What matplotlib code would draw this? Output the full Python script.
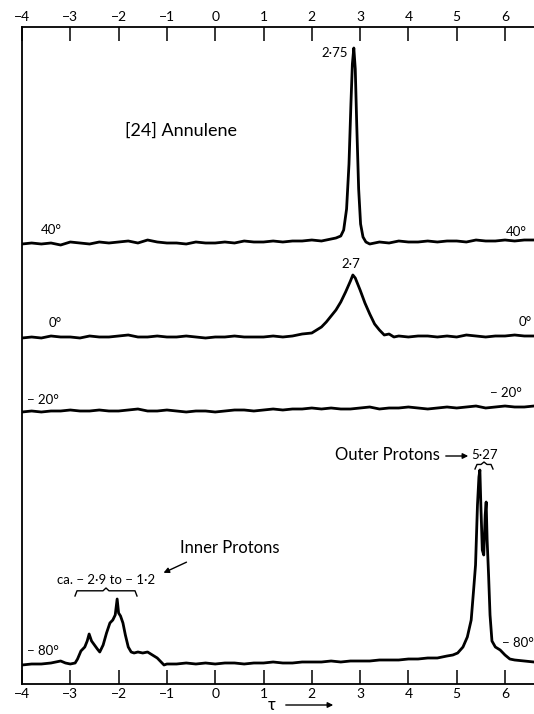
import matplotlib
matplotlib.use("Agg")
import matplotlib.pyplot as plt

plt.rcParams['font.family'] = ['Lato', 'DejaVu Sans']

# chemical shift scale (tau)
tau_ticks = [-4, -3, -2, -1, 0, 1, 2, 3, 4, 5, 6]

# 40 deg trace: single sharp line
tau_40 = [-4.0, -3.8, -3.6, -3.4, -3.2, -3.0, -2.8, -2.6, -2.4, -2.2, -2.0, -1.8, -1.6, -1.4, -1.2,
          -1.0, -0.8, -0.6, -0.4, -0.2, 0.0, 0.2, 0.4, 0.6, 0.8, 1.0, 1.2, 1.4, 1.6, 1.8, 2.0, 2.2, 2.4,
          2.5, 2.6, 2.66, 2.72, 2.77, 2.81, 2.84, 2.87, 2.9, 2.93, 2.97, 3.01, 3.06, 3.12,
          3.2, 3.4, 3.6, 3.8, 4.0, 4.2, 4.4, 4.6, 4.8, 5.0, 5.2, 5.4, 5.6, 5.8, 6.0, 6.2, 6.4, 6.6]
amp_40 = [0, 1, 0, 1, -1, 2, 1, 0, 2, 1, 2, 3, 1, 4, 2,
          1, 1, 0, 2, 1, 1, 2, 1, 3, 2, 2, 3, 2, 3, 3, 4, 3, 5,
          6, 8, 14, 35, 80, 140, 180, 196, 175, 120, 55, 20, 7, 2,
          0, 2, 1, 3, 2, 2, 3, 2, 3, 3, 2, 4, 3, 3, 4, 3, 4, 4]

# 0 deg trace: broadened line
tau_0 = [-4.0, -3.8, -3.6, -3.4, -3.2, -3.0, -2.8, -2.6, -2.4, -2.2, -2.0, -1.8, -1.6, -1.4,
         -1.2, -1.0, -0.8, -0.6, -0.4, -0.2, 0.0, 0.2, 0.4, 0.6, 0.8, 1.0, 1.2, 1.4,
         1.6, 1.8, 2.0, 2.1, 2.2, 2.3, 2.4, 2.5, 2.6, 2.7, 2.8, 2.85, 2.9, 3.0, 3.1, 3.2, 3.3, 3.4,
         3.5, 3.6, 3.7,
         3.8, 4.0, 4.2, 4.4, 4.6, 4.8, 5.0, 5.2, 5.4, 5.6, 5.8, 6.0, 6.2, 6.4, 6.6]
amp_0 = [0, 1, 0, 2, 1, 1, 0, 2, 1, 1, 2, 3, 1, 1,
         2, 1, 1, 2, 1, 0, 1, 1, 2, 1, 1, 1, 2, 1,
         2, 4, 5, 8, 11, 16, 22, 28, 36, 46, 57, 63, 60, 48, 35, 24, 14, 8,
         3, 4, 1,
         2, 1, 2, 2, 1, 2, 1, 3, 2, 1, 2, 2, 3, 2, 2]

# -20 deg trace: coalescence, almost flat
tau_m20 = [-4.0, -3.8, -3.6, -3.4, -3.2, -3.0, -2.8, -2.6, -2.4, -2.2, -2.0, -1.8, -1.6, -1.4,
           -1.2, -1.0, -0.8, -0.6, -0.4, -0.2, 0.0, 0.2, 0.4, 0.6, 0.8, 1.0, 1.2, 1.4, 1.6, 1.8,
           2.0, 2.2, 2.4, 2.6, 2.8, 3.0, 3.2, 3.4, 3.6, 3.8, 4.0, 4.2, 4.4, 4.6, 4.8, 5.0, 5.2,
           5.4, 5.6, 5.8, 6.0, 6.2, 6.4, 6.6]
amp_m20 = [0, 1, 0, 1, 1, 2, 1, 1, 2, 1, 1, 2, 3, 1, 1, 2, 1, 0, 1, 1,
           0, 1, 2, 2, 1, 2, 3, 2, 3, 3, 4, 3, 4, 3, 3, 4, 5, 3, 4, 4,
           5, 4, 3, 4, 5, 4, 5, 6, 4, 5, 6, 5, 5, 6]

# -80 deg trace: inner and outer protons resolved
tau_m80 = [-4.0, -3.8, -3.6, -3.4, -3.2, -3.1, -3.0, -2.9, -2.85, -2.78, -2.7, -2.65, -2.61, -2.56,
           -2.5, -2.44, -2.39, -2.32, -2.25, -2.18, -2.12, -2.07, -2.03, -2.0, -1.96, -1.91, -1.86,
           -1.8, -1.74, -1.68, -1.6, -1.5, -1.4, -1.3, -1.2, -1.12, -1.06, -1.0, -0.8, -0.6, -0.4,
           -0.2, 0.0, 0.2, 0.4, 0.6, 0.8, 1.0, 1.2, 1.4, 1.6, 1.8, 2.0, 2.2, 2.4, 2.6, 2.8, 3.0,
           3.2, 3.4, 3.6, 3.8, 4.0, 4.2, 4.4, 4.6, 4.8, 4.92, 5.02, 5.13, 5.22, 5.3, 5.35, 5.39,
           5.43, 5.46, 5.48, 5.5, 5.53, 5.56, 5.59, 5.61, 5.63, 5.66, 5.69, 5.73, 5.8, 5.9, 6.0,
           6.1, 6.2, 6.4, 6.6]
amp_m80 = [0, 1, 1, 2, 4, 2, 1, 2, 6, 14, 18, 24, 31, 24,
           20, 16, 13, 20, 32, 42, 45, 50, 66, 52, 49, 42, 30,
           18, 13, 12, 13, 12, 13, 10, 7, 3, 0, 1, 1, 2, 1,
           2, 1, 2, 2, 1, 2, 2, 3, 2, 2, 3, 3, 3, 4, 3, 4, 4,
           4, 5, 5, 5, 6, 6, 7, 7, 9, 10, 12, 18, 28, 45, 75, 100,
           160, 188, 195, 160, 115, 110, 150, 163, 125, 90, 50, 24, 18, 15, 10,
           6, 5, 4, 3]

traces = [(tau_40, amp_40, 440), (tau_0, amp_0, 346), (tau_m20, amp_m20, 272), (tau_m80, amp_m80, 19)]

W, H = 534, 714
X0, Y0 = 22, 684
PX_PER_TAU = 48.3


def tx(px):
    return (px - X0) / PX_PER_TAU - 4


def ty(py):
    return Y0 - py


fig = plt.figure(figsize=(W / 100, H / 100), dpi=100)
ax = fig.add_axes([X0 / W, (H - Y0) / H, (W - X0) / W, 657 / H])
ax.set_xlim(-4, tx(W))
ax.set_ylim(0, 657)

for tau, amp, base in traces:
    ax.plot(tau, [base + a for a in amp], color='black', lw=2.0,
            solid_joinstyle='round', solid_capstyle='round')

ax.spines['right'].set_visible(False)
for s in ['left', 'top', 'bottom']:
    ax.spines[s].set_linewidth(1.3)
ax.set_xticks(tau_ticks)
ax.set_xticklabels([f'−{-t}' if t < 0 else str(t) for t in tau_ticks])
ax.set_yticks([])
ax.tick_params(axis='x', direction='in', length=10, width=1.1, top=True, labeltop=True,
               bottom=True, labelbottom=True, labelsize=10, pad=3)

# temperature labels
fs = 9.5
ax.text(tx(51), ty(230), '40°', ha='center', va='center', fontsize=fs)
ax.text(tx(506), ty(232), '40°', ha='left', va='center', fontsize=fs)
ax.text(tx(55), ty(323), '0°', ha='center', va='center', fontsize=fs)
ax.text(tx(519), ty(322), '0°', ha='left', va='center', fontsize=fs)
ax.text(tx(27), ty(400), '− 20°', ha='left', va='center', fontsize=fs)
ax.text(tx(490), ty(393), '− 20°', ha='left', va='center', fontsize=fs)
ax.text(tx(27), ty(651), '− 80°', ha='left', va='center', fontsize=fs)
ax.text(tx(502), ty(643), '− 80°', ha='left', va='center', fontsize=fs)

# peak labels
ax.text(tx(348), ty(53), '2·75', ha='right', va='center', fontsize=fs)
ax.text(tx(351), ty(264), '2·7', ha='center', va='center', fontsize=fs)
ax.text(tx(181), ty(131), '[24] Annulene', ha='center', va='center', fontsize=13)

ax.text(tx(440), ty(455), 'Outer Protons', ha='right', va='center', fontsize=12)
ax.annotate('', xy=(tx(471), ty(456)), xytext=(tx(443), ty(456)),
            arrowprops=dict(arrowstyle='-|>', color='black', lw=1.0, mutation_scale=8))
ax.text(tx(471), ty(455), '5·27', ha='left', va='center', fontsize=fs)

ax.text(tx(180), ty(548), 'Inner Protons', ha='left', va='center', fontsize=12)
ax.annotate('', xy=(tx(161), ty(574)), xytext=(tx(189), ty(561)),
            arrowprops=dict(arrowstyle='-|>', color='black', lw=1.0, mutation_scale=8))
ax.text(tx(106), ty(580), 'ca. − 2·9 to − 1·2', ha='center', va='center', fontsize=fs)


def brace(x0, x1, ytop, h):
    xm = (x0 + x1) / 2
    xs = [x0, x0 + 2, xm - 3, xm, xm + 3, x1 - 2, x1]
    ys = [ytop + h, ytop + h * 0.35, ytop + h * 0.35, ytop, ytop + h * 0.35, ytop + h * 0.35, ytop + h]
    ax.plot([tx(x) for x in xs], [ty(y) for y in ys], color='black', lw=1.0)


brace(75, 137, 588, 8)
brace(475, 493, 462, 7)

# tau axis label
fig.text(272 / W, 1 - 705 / H, 'τ', ha='center', va='center', fontsize=12)
fig.patches.append(matplotlib.patches.FancyArrowPatch(
    (283 / W, 1 - 705 / H), (336 / W, 1 - 705 / H), transform=fig.transFigure,
    arrowstyle='-|>', mutation_scale=8, color='black', lw=1.0))

fig.savefig('out.png', dpi=100)
